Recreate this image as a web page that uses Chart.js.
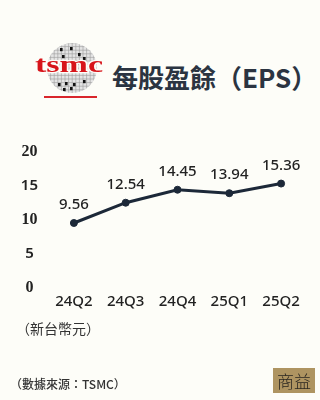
<!DOCTYPE html>
<html><head><meta charset="utf-8">
<script src="https://cdn.jsdelivr.net/npm/chart.js@4.4.1/dist/chart.umd.min.js"></script>
<style>
html,body{margin:0;padding:0;background:#fdfdf8;}
#wrap{position:relative;width:320px;height:400px;overflow:hidden;background:#fdfdf8;}
#c{position:absolute;left:0;top:0;}
.t{position:absolute;white-space:nowrap;line-height:1;}
#badge{position:absolute;left:273px;top:368px;width:42px;height:25px;background:#ae9461;color:#2a2620;font:300 17px 'Noto Sans CJK TC';line-height:25px;text-align:center;}
</style></head><body>
<div id="wrap">
<canvas id="logo" width="80" height="60" style="position:absolute;left:30px;top:40px"></canvas>
<div class="t" style="left:112px;top:58px;font:700 26px 'Noto Sans CJK TC';color:#2b3441">每股盈餘（EPS）</div>
<div style="position:absolute;left:44px;top:96px;width:53px;height:2px;background:#d9262c"></div>
<canvas id="c" width="320" height="400" style="width:320px;height:400px"></canvas>
<div class="t" style="left:16px;top:318px;font:400 14px 'Noto Sans CJK TC';color:#333">（新台幣元）</div>
<div class="t" style="left:10px;top:375px;font:500 12px 'Noto Sans CJK TC';color:#333">（數據來源：TSMC）</div>
<div id="badge">商益</div>
</div>
<script>
const quarters = ['24Q2','24Q3','24Q4','25Q1','25Q2'];
const eps = [9.56, 12.54, 14.45, 13.94, 15.36];
const yTicks = [0, 5, 10, 15, 20];

// logo
(function(){
  const lc = document.getElementById('logo').getContext('2d');
  const cx = 42, cy = 28, r = 25;
  lc.save();
  lc.beginPath(); lc.arc(cx, cy, r, 0, Math.PI*2); lc.fillStyle = '#e4e4e4'; lc.fill(); lc.clip();
  lc.strokeStyle = '#9c9c9c'; lc.lineWidth = 0.6;
  for (let x = cx - r; x <= cx + r; x += 3.6) { lc.beginPath(); lc.moveTo(x, 0); lc.lineTo(x, 60); lc.stroke(); }
  for (let y = cy - r; y <= cy + r; y += 3.6) { lc.beginPath(); lc.moveTo(0, y); lc.lineTo(80, y); lc.stroke(); }
  lc.fillStyle = '#111';
  [[30,8],[40,7],[48,13],[32,15],[53,17],[28,43],[35,42],[43,43],[53,40],[33,48],[40,47]].forEach(p => lc.fillRect(p[0], p[1], 2.6, 3.2));
  lc.restore();
  lc.save();
  lc.translate(5, 32);
  lc.scale(1.42, 1);
  lc.font = "bold 24px 'Liberation Serif'";
  lc.textBaseline = 'alphabetic';
  lc.lineWidth = 2.5; lc.strokeStyle = '#fdfdf8';
  lc.strokeText('tsmc', 0, 0);
  lc.fillStyle = '#d7141a';
  lc.fillText('tsmc', 0, 0);
  lc.restore();
})();

const labelPlugin = {
  id: 'vlabels',
  afterDatasetsDraw(chart) {
    const ctx = chart.ctx;
    const meta = chart.getDatasetMeta(0);
    ctx.save();
    ctx.font = "500 15px 'Noto Sans'";
    ctx.fillStyle = '#222';
    ctx.textAlign = 'center';
    ctx.textBaseline = 'middle';
    meta.data.forEach((pt, i) => ctx.fillText(eps[i].toFixed(2), pt.x, pt.y - 18));
    ctx.restore();
  }
};

const navy = '#1c2838';
new Chart(document.getElementById('c'), {
  type: 'line',
  data: {
    labels: quarters,
    datasets: [{
      data: eps,
      borderColor: navy,
      borderWidth: 3,
      pointRadius: 3.5,
      pointBackgroundColor: navy,
      pointBorderColor: navy,
      pointBorderWidth: 1,
      tension: 0
    }]
  },
  options: {
    responsive: false,
    devicePixelRatio: 1,
    animation: false,
    layout: { padding: { left: 0, right: 13, top: 152, bottom: 86 } },
    plugins: { legend: { display: false }, tooltip: { enabled: false } },
    scales: {
      x: {
        offset: true,
        grid: { display: false, drawTicks: false },
        border: { display: false },
        ticks: { padding: 5, color: '#222', font: { family: 'Noto Sans', size: 15, weight: 500 } },
        afterFit: s => { s.height = 26; }
      },
      y: {
        min: 0, max: 20,
        grid: { display: false, drawTicks: false },
        border: { display: false },
        afterBuildTicks: s => { s.ticks = yTicks.map(v => ({ value: v })); },
        ticks: {
          crossAlign: 'center',
          padding: 10,
          color: '#222',
          font: c => {
            const serif = c.tick && c.tick.value % 10 === 0;
            return { family: serif ? 'Liberation Serif' : 'Noto Sans', size: serif ? 16 : 15, weight: serif ? 'bold' : 600 };
          }
        },
        afterFit: s => { s.width = 48; }
      }
    }
  },
  plugins: [labelPlugin]
});
</script>
</body></html>
